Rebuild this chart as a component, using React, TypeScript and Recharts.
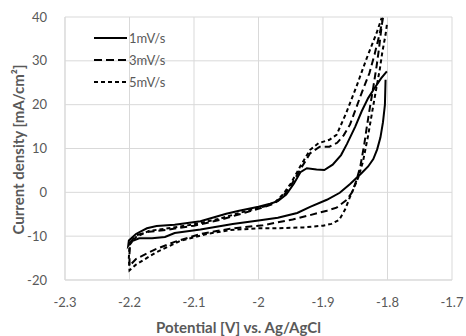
import React from "react";
import { LineChart, Line, XAxis, YAxis, CartesianGrid } from "recharts";

const xTicks = [-2.3, -2.2, -2.1, -2, -1.9, -1.8, -1.7];
const yTicks = [-20, -10, 0, 10, 20, 30, 40];

const seriesNames = ["1mV/s", "3mV/s", "5mV/s"];

const pot1 = [-1.803, -1.804, -1.807, -1.811, -1.816, -1.822, -1.83, -1.84, -1.858, -1.874, -1.894, -1.92, -1.94, -1.97, -2.0, -2.04, -2.09, -2.13, -2.145, -2.165, -2.185, -2.197, -2.202, -2.201, -2.19, -2.173, -2.158, -2.13, -2.09, -2.05, -2.03, -2.0, -1.982, -1.97, -1.957, -1.945, -1.935, -1.925, -1.91, -1.898, -1.885, -1.872, -1.863, -1.85, -1.84, -1.83, -1.82, -1.81, -1.801];
const cur1 = [25.7, 20, 16, 12.5, 9.8, 7.6, 5.9, 4.4, 1.9, -0.1, -1.7, -3.3, -4.7, -5.8, -6.4, -7.2, -8.5, -9.3, -10.2, -10.5, -10.5, -11.2, -12.2, -11.0, -9.5, -8.2, -7.7, -7.4, -6.6, -4.9, -4.2, -3.3, -2.6, -2.0, -0.5, 2.0, 4.6, 5.5, 5.2, 5.1, 6.3, 8.5, 11, 15, 18.5, 21.5, 23.8, 26, 27.6];

const pot3 = [-1.807, -1.809, -1.813, -1.817, -1.822, -1.827, -1.832, -1.836, -1.842, -1.848, -1.855, -1.863, -1.879, -1.894, -1.92, -1.947, -1.993, -2.044, -2.09, -2.13, -2.16, -2.19, -2.2, -2.2, -2.199, -2.19, -2.17, -2.14, -2.1, -2.06, -2.02, -1.99, -1.975, -1.96, -1.95, -1.936, -1.92, -1.905, -1.89, -1.878, -1.868, -1.858, -1.848, -1.84, -1.828, -1.82, -1.812, -1.807];
const cur3 = [39.8, 38, 33, 28.7, 24, 19.6, 15, 11, 6, 2.8, 0, -1.7, -3.5, -4.2, -5.2, -6.2, -7.5, -8.3, -9.5, -11.3, -13, -15.2, -16.8, -14, -11.5, -9.8, -9.0, -8.5, -7.6, -6.3, -4.6, -3.3, -2.5, -0.5, 1.5, 5, 8.9, 10.4, 10.4, 11.3, 13, 15.5, 19.5, 22.7, 27.2, 31.5, 36.3, 39.8];

const pot5 = [-1.801, -1.803, -1.808, -1.812, -1.817, -1.823, -1.83, -1.838, -1.845, -1.852, -1.858, -1.866, -1.875, -1.887, -1.9, -1.93, -1.97, -2.0, -2.044, -2.08, -2.12, -2.16, -2.19, -2.2, -2.201, -2.2, -2.19, -2.17, -2.14, -2.1, -2.06, -2.02, -1.99, -1.975, -1.962, -1.95, -1.935, -1.92, -1.907, -1.89, -1.879, -1.864, -1.848, -1.833, -1.817, -1.809];
const cur5 = [38.2, 36, 32, 28, 24, 19, 13, 7, 3.5, 1.0, -1.0, -4.0, -6.3, -7.2, -7.6, -8.0, -8.2, -8.2, -8.6, -9.5, -11, -13.8, -16.5, -17.8, -15, -12, -10.2, -8.8, -8.2, -7.3, -6, -4.3, -3.2, -2.3, -0.5, 2, 6, 9.7, 11.2, 12, 13.1, 18.1, 24.2, 30.3, 36.3, 39.8];

const toPoints = (xs: number[], ys: number[]) => xs.map((x, i) => ({ x, y: ys[i] }));

const data1 = toPoints(pot1, cur1);
const data3 = toPoints(pot3, cur3);
const data5 = toPoints(pot5, cur5);

const FONT = "Lato, 'Noto Sans', sans-serif";
const GRAY = "#595959";

const dashes = ["", "8 4", "4 3"];

const LegendBox = () => (
  <svg width={100} height={60} style={{ display: "block" }}>
    {seriesNames.map((n, i) => (
      <g key={n}>
        <line x1={2} x2={35} y1={8 + i * 22} y2={8 + i * 22} stroke="#000" strokeWidth={2} strokeDasharray={dashes[i]} />
        <text x={37} y={8 + i * 22 + 4.5} fontSize={13} fill={GRAY} fontFamily={FONT}>{n}</text>
      </g>
    ))}
  </svg>
);

export default function App() {
  return (
    <div style={{ position: "absolute", left: 0, top: 0, width: 466, height: 336, background: "#fff" }}>
      <LineChart width={466} height={336} margin={{ top: 17, right: 14, left: 0, bottom: 0 }}>
        <CartesianGrid stroke="#d9d9d9" strokeWidth={1} />
        <XAxis
          type="number"
          dataKey="x"
          domain={[-2.3, -1.7]}
          ticks={xTicks}
          allowDataOverflow
          tickLine={false}
          axisLine={{ stroke: "#d9d9d9" }}
          tick={{ fontSize: 13, fill: GRAY, fontFamily: FONT }}
          tickMargin={12}
          height={56}
          label={{ value: "Potential [V] vs. Ag/AgCl", position: "insideBottom", offset: 3, dx: -20, style: { fontSize: 15, fontWeight: 700, fill: GRAY, fontFamily: FONT } }}
        />
        <YAxis
          type="number"
          domain={[-20, 40]}
          ticks={yTicks}
          allowDataOverflow
          tickLine={false}
          axisLine={{ stroke: "#d9d9d9" }}
          tick={{ fontSize: 13, fill: GRAY, fontFamily: FONT }}
          tickMargin={12}
          width={65}
          label={{ value: "Current density [mA/cm²]", angle: -90, position: "center", dx: -14, dy: 1, style: { fontSize: 15, fontWeight: 700, fill: GRAY, fontFamily: FONT, textAnchor: "middle" } }}
        />
        <Line data={data1} dataKey="y" name={seriesNames[0]} type="linear" stroke="#000" strokeWidth={2} dot={false} isAnimationActive={false} />
        <Line data={data3} dataKey="y" name={seriesNames[1]} type="linear" stroke="#000" strokeWidth={2} strokeDasharray="7 4" dot={false} isAnimationActive={false} />
        <Line data={data5} dataKey="y" name={seriesNames[2]} type="linear" stroke="#000" strokeWidth={2} strokeDasharray="4 3" dot={false} isAnimationActive={false} />
      </LineChart>
      <div style={{ position: "absolute", left: 92, top: 30 }}>
        <LegendBox />
      </div>
    </div>
  );
}
